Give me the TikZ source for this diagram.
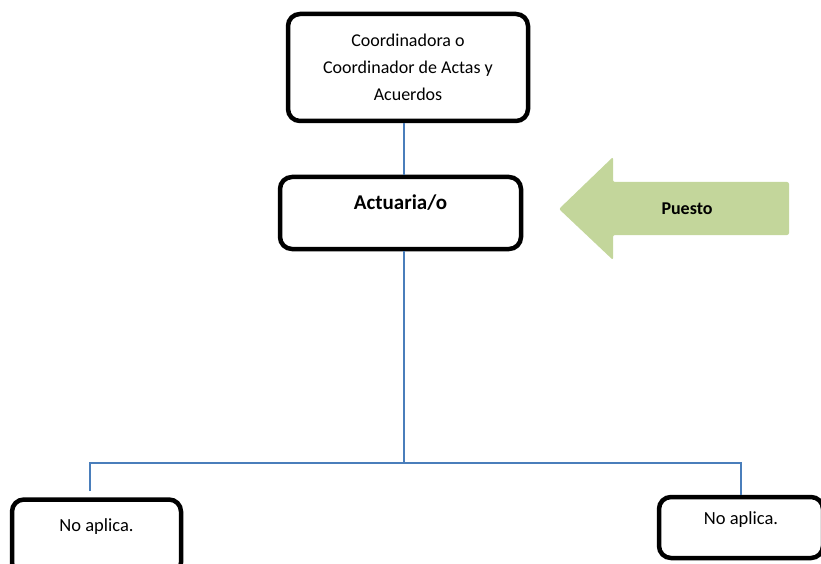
\documentclass[tikz,border=0pt]{standalone}
\usepackage{fontspec}
\setmainfont{Carlito}
\usetikzlibrary{positioning}
\definecolor{linkblue}{HTML}{4A7EBB}
\definecolor{puestogreen}{HTML}{C3D69B}

\begin{document}
\begin{tikzpicture}[x=1pt, y=-1pt,
  box/.style = {draw, line width=4.5pt, rounded corners=12pt, align=center,
                font=\fontsize{18}{27}\selectfont},
  link/.style = {draw=linkblue, line width=1.5pt}]
  \useasboundingbox (0,0) rectangle (821,564);
  \node[box, minimum width=240pt, minimum height=107pt] (coord) at (408,67.5)
    {Coordinadora o\\Coordinador de Actas y\\Acuerdos};
  \node[box, minimum width=241pt, minimum height=72pt,
        label={[font=\bfseries\fontsize{21}{24}\selectfont, yshift=10pt]center:Actuaria/o}]
    (act) at (400.5,213) {};
  \node[box, minimum width=169pt, minimum height=75pt,
        label={[font=\fontsize{18.5}{22}\selectfont, yshift=10pt]center:No aplica.}]
    (left) at (96.5,537) {};
  \node[box, minimum width=164pt, minimum height=61pt,
        label={[font=\fontsize{18.5}{22}\selectfont, yshift=7.5pt]center:No aplica.}]
    (right) at (741,527.5) {};
  % arrow on the right
  \fill[puestogreen, rounded corners=2pt] (559,209) -- (613,157) -- (613,182)
    -- (789,182) -- (789,235) -- (613,235) -- (613,260) -- cycle;
  \node[font=\bfseries\fontsize{18}{22}\selectfont] (puesto) at (687,209) {Puesto};
  % lines
  \coordinate (junc) at (404,463);
  \coordinate (lend) at (90,491);
  \path[link]
    (coord.south -| junc) edge (act.north -| junc)
    (act.south -| junc) edge (junc);
  \draw[link] (lend) |- (junc) -| (right.north);
\end{tikzpicture}
\end{document}
